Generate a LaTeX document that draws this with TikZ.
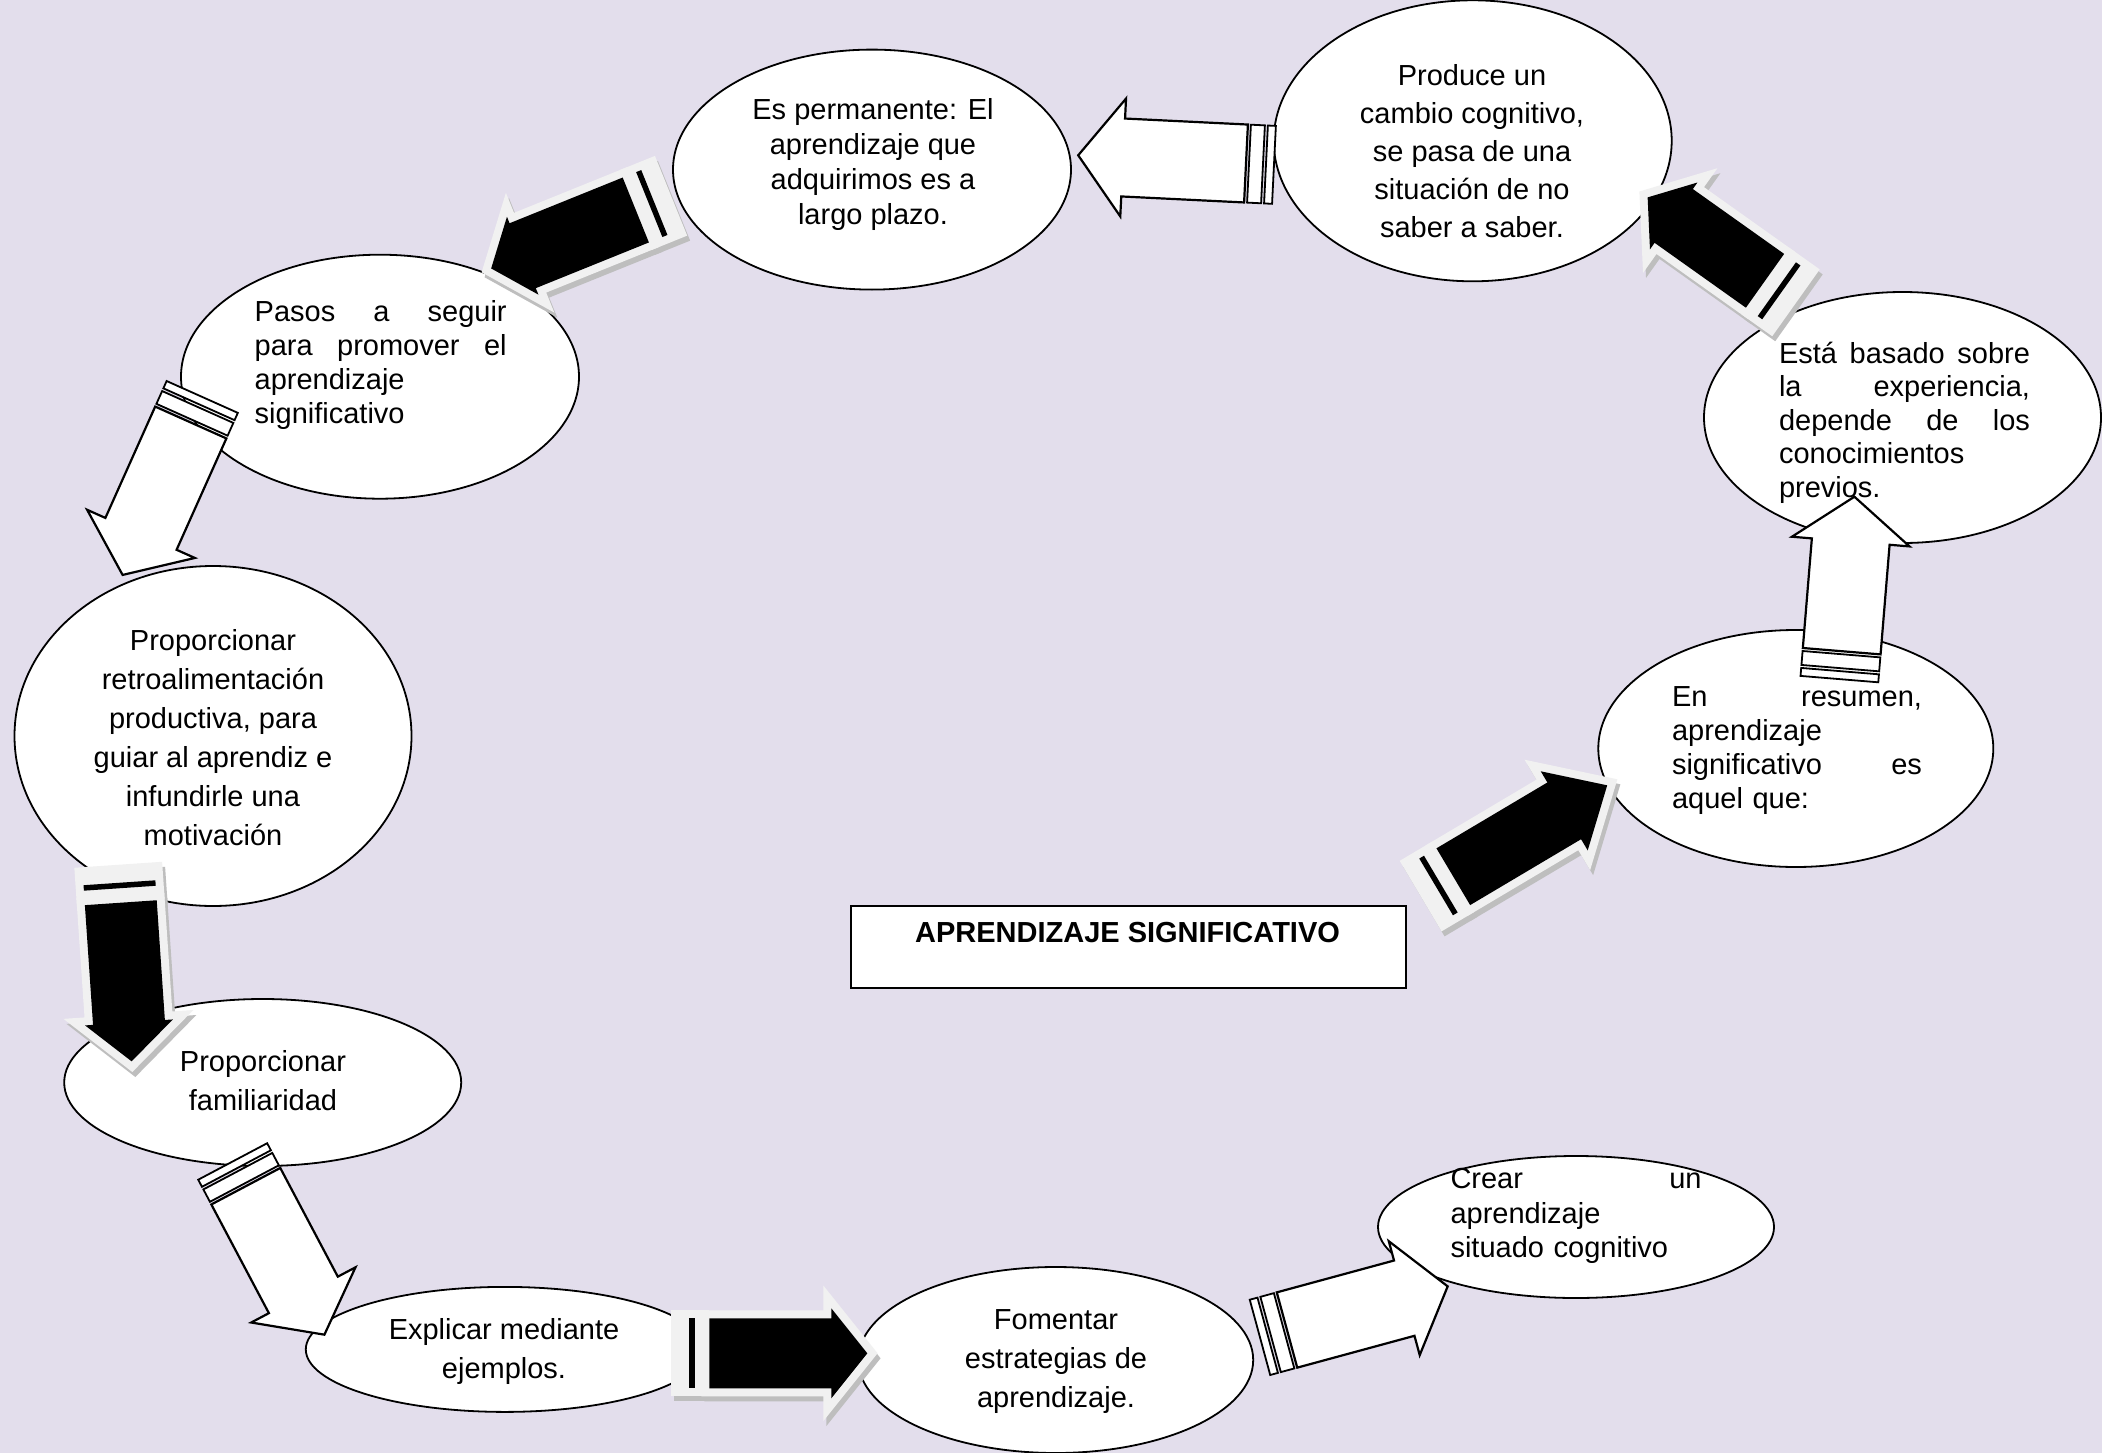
\documentclass[tikz,border=0pt]{standalone}
\usepackage{fontspec}
\setmainfont{Liberation Sans}
\usetikzlibrary{shapes.geometric}
\definecolor{bg}{RGB}{227,222,236}
\definecolor{lgray}{RGB}{241,241,241}
\definecolor{shd}{RGB}{190,190,190}
\tikzset{
 ell/.style={ellipse, draw=black, fill=white, line width=1.8pt, inner sep=0pt},
 txt/.style={font=\fontsize{29}{#1}\selectfont, align=center, inner sep=0pt},
 txt/.default=39,
 warrow/.style={draw=black, fill=white, line width=2.2pt, line join=miter},
 wbar/.style={draw=black, fill=white, line width=1.8pt},
}
% white block arrow: x, y (body start centre), angle, body length
\newcommand\whitearrow[4]{%
 \begin{scope}[shift={(#1,#2)},rotate=#3]
  \draw[warrow] (0,-39) -- (#4,-39) -- (#4,-59) -- ({#4+45},0) -- (#4,59) -- (#4,39) -- (0,39) -- cycle;
  \draw[wbar] (-17,-39) rectangle (-3,39);
  \draw[wbar] (-28,-39) rectangle (-20,39);
 \end{scope}}
% black block arrow: x, y, angle, body length, head length, head half width, body half width
\newcommand\blackarrow[7]{%
 \begin{scope}[shift={(#1+3,#2+5)},rotate=#3]
  \filldraw[shd, line width=16pt, line join=miter] (0,-#7) -- (#4,-#7) -- (#4,-#6) -- ({#4+#5},0) -- (#4,#6) -- (#4,#7) -- (0,#7) -- cycle;
  \fill[shd] (-38,{-#7-8}) rectangle (0,{#7+8});
 \end{scope}
 \begin{scope}[shift={(#1,#2)},rotate=#3]
  \filldraw[lgray, line width=16pt, line join=miter] (0,-#7) -- (#4,-#7) -- (#4,-#6) -- ({#4+#5},0) -- (#4,#6) -- (#4,#7) -- (0,#7) -- cycle;
  \fill[lgray] (-38,{-#7-8}) rectangle (0,{#7+8});
  \fill[black] (0,-#7) -- (#4,-#7) -- (#4,-#6) -- ({#4+#5},0) -- (#4,#6) -- (#4,#7) -- (0,#7) -- cycle;
  \fill[black] (-20,-#7) rectangle (-14.5,#7);
 \end{scope}}
\begin{document}
\begin{tikzpicture}[x=1pt,y=-1pt]
\useasboundingbox (0,0) rectangle (2102,1453);
\fill[bg] (0,0) rectangle (2102,1453);

% ellipses
\node[ell, minimum width=398pt, minimum height=281pt] (e1) at (1472.7,140.8) {};
\node[ell, minimum width=398pt, minimum height=240pt] (e2) at (872,169.6) {};
\node[ell, minimum width=398pt, minimum height=244pt] (e3) at (380,376.7) {};
\node[ell, minimum width=397pt, minimum height=340pt] (e4) at (213,736) {};
\node[ell, minimum width=397pt, minimum height=167pt] (e5) at (262.7,1082.5) {};
\node[ell, minimum width=398pt, minimum height=125pt] (e6) at (504.8,1349.4) {};
\node[ell, minimum width=395pt, minimum height=186pt] (e7) at (1055.7,1360) {};
\node[ell, minimum width=396pt, minimum height=142pt] (e8) at (1576,1227) {};
\node[ell, minimum width=395pt, minimum height=237pt] (e9) at (1795.8,748.5) {};
\node[ell, minimum width=397pt, minimum height=251pt] (e10) at (1902.5,417.5) {};

% title box
\node[draw=black, fill=white, line width=1.8pt, minimum width=555pt, minimum height=82pt, inner sep=0pt] (box) at (1128.5,947) {};
\node[font=\bfseries\fontsize{29}{35}\selectfont, anchor=base, inner sep=0pt] (title) at (1127.5,942) {APRENDIZAJE SIGNIFICATIVO};

% white arrows
\whitearrow{1246}{163.5}{177.2}{123}
\whitearrow{190.8}{422.5}{245.9}{122}
\whitearrow{245.8}{1186.2}{-62.1}{123}
\whitearrow{1287}{1330}{15.2}{121.5}
\whitearrow{1841.7}{651.2}{85.3}{110}

% black arrows
\blackarrow{635.8}{210}{202}{122}{34}{42}{35}
\blackarrow{120.8}{902.7}{-86.1}{120}{39}{44}{36}
\blackarrow{709.3}{1353.3}{0}{122}{36}{45}{35}
\blackarrow{1453.3}{876.7}{30.7}{129}{50}{46}{33}
\blackarrow{1765}{280.8}{144.6}{112}{32}{41}{33}

% texts
\node[txt=38] (t1) at (1472,151.5) {Produce un\\cambio cognitivo,\\se pasa de una\\situación de no\\saber a saber.};
\node[txt=35] (t2) at (873,165) {Es permanente: El\\aprendizaje que\\adquirimos es a\\largo plazo.};
\node[txt=34, align=left, text width=252pt] (t3) at (380.7,365) {Pasos\hfill a\hfill seguir\\para\hfill promover\hfill el\\aprendizaje\\significativo};
\node[txt=39] (t4) at (213,738) {Proporcionar\\retroalimentación\\productiva, para\\guiar al aprendiz e\\infundirle una\\motivación};
\node[txt=39] (t5) at (263,1081) {Proporcionar\\familiaridad};
\node[txt=39] (t6) at (504,1351) {Explicar mediante\\ejemplos.};
\node[txt=39] (t7) at (1056,1362) {Fomentar\\estrategias de\\aprendizaje.};
\node[txt=34.5, align=left, text width=251pt] (t8) at (1576,1216) {Crear\hfill un\\aprendizaje\\situado cognitivo};
\node[txt=34, align=left, text width=250pt] (t9) at (1797,751) {En\hfill resumen,\\aprendizaje\\significativo\hfill es\\aquel que:};
\node[txt=33.5, align=left, text width=251pt] (t10) at (1904.5,422.6) {Está\hfill basado\hfill sobre\\la\hfill experiencia,\\depende\hfill de\hfill los\\conocimientos\\previos.};
\end{tikzpicture}
\end{document}
